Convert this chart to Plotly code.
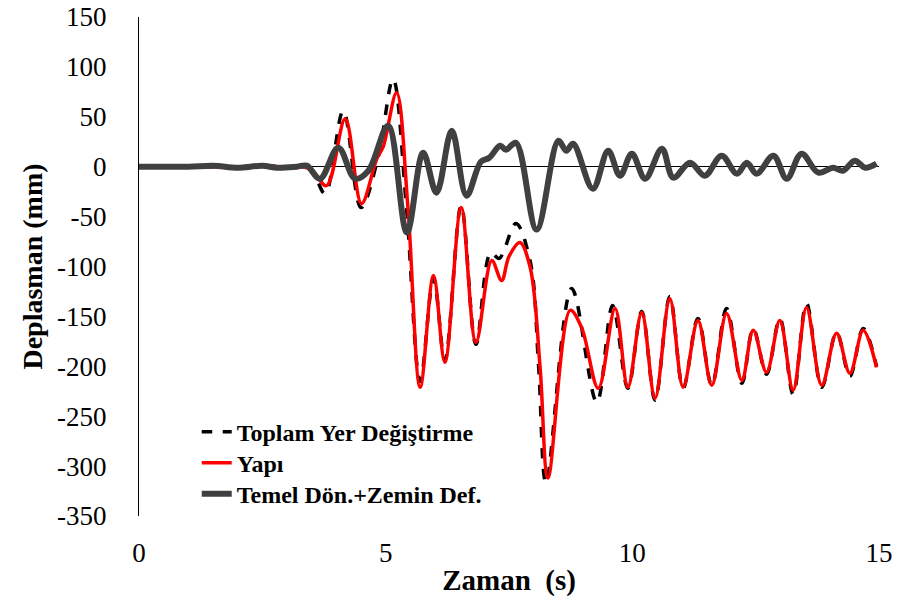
import plotly.graph_objects as go

# Toplam Yer Değiştirme (black dashed)
t_total = [0, 1.0, 2.0, 2.6, 3.0, 3.3, 3.5, 3.77, 4.14, 4.50, 4.85, 5.15, 5.42, 5.70, 5.97, 6.20, 6.53,
           6.83, 7.13, 7.30, 7.64, 7.93, 8.10, 8.25, 8.77, 9.28, 9.60, 9.91, 10.19, 10.46, 10.76,
           11.03, 11.33, 11.61, 11.91, 12.22, 12.45, 12.72, 12.99, 13.26, 13.53, 13.84, 14.14,
           14.41, 14.68, 14.95]
v_total = [0, 0, 0, 1, -1, 0, -3, -27, 56, -41, 10, 88, -40, -215, -112, -194, -39,
           -178, -86, -92, -57, -95, -200, -317, -122, -236, -139, -222, -145, -234, -130,
           -222, -152, -219, -142, -217, -162, -208, -152, -228, -137, -221, -166,
           -210, -162, -200]

# Yapı (red)
t_yapi = [0, 1.0, 2.0, 2.6, 3.0, 3.3, 3.5, 3.80, 4.18, 4.51, 4.82, 4.95, 5.22, 5.45, 5.70, 5.97, 6.20,
          6.53, 6.83, 7.15, 7.35, 7.50, 7.72, 7.93, 8.13, 8.29, 8.74, 8.97, 9.31, 9.65, 9.91,
          10.19, 10.46, 10.76, 11.03, 11.33, 11.61, 11.91, 12.22, 12.45, 12.72, 12.99, 13.26,
          13.53, 13.84, 14.14, 14.41, 14.68, 14.95]
v_yapi = [0, 0, 0, 1, -1, 0, -3, -19, 48, -37, 8, 20, 74, -40, -221, -109, -196,
          -41, -176, -94, -114, -90, -76, -101, -201, -312, -144, -161, -222, -142, -221,
          -146, -232, -132, -221, -154, -219, -147, -214, -164, -206, -154, -224,
          -141, -219, -167, -207, -164, -201]

# Temel Dön.+Zemin Def. (dark gray)
t_temel = [0, 1.0, 1.5, 2.0, 2.5, 2.8, 3.2, 3.4, 3.67, 4.04, 4.38, 4.65, 5.05, 5.43, 5.76, 6.03,
           6.34, 6.64, 6.93, 7.10, 7.32, 7.44, 7.64, 8.06, 8.50, 8.66, 8.80, 9.20, 9.51, 9.75,
           9.99, 10.26, 10.60, 10.83, 11.17, 11.47, 11.81, 12.12, 12.32, 12.52, 12.86, 13.13,
           13.43, 13.77, 14.07, 14.27, 14.51, 14.72, 14.95]
v_temel = [0, 0, 1, -1, 1, -1, 0, 1, -12, 19, -12, -4, 41, -66, 14, -26,
           36, -29, 5, 9, 21, 17, 24, -63, 26, 16, 23, -22, 16, -9,
           13, -12, 18, -11, 4, -9, 11, -7, 4, -7, 11, -12,
           13, -6, -1, -4, 6, -1, 3]

y_ticks = [150, 100, 50, 0, -50, -100, -150, -200, -250, -300, -350]
y_ticktext = ["150", "100", "50", "0", "-50", "-100", "-150", "-200", "-250", "-300", "-350"]
x_ticks = [0, 5, 10, 15]

FONT = "Liberation Serif, Times New Roman, serif"
LEG_FONT = dict(family=FONT, size=24, color="black")

fig = go.Figure()
fig.add_trace(go.Scatter(x=t_total, y=v_total, mode="lines", name="<b>Toplam Yer Değiştirme</b>",
                         legend="legend",
                         line=dict(color="black", width=3.5, dash="dash", shape="spline", smoothing=1.0)))
fig.add_trace(go.Scatter(x=t_yapi, y=v_yapi, mode="lines", name="<b>Yapı</b>",
                         legend="legend2",
                         line=dict(color="#ff0000", width=3.5, shape="spline", smoothing=1.0)))
fig.add_trace(go.Scatter(x=t_temel, y=v_temel, mode="lines", name="<b>Temel Dön.+Zemin Def.</b>",
                         legend="legend3",
                         line=dict(color="#404040", width=6, shape="spline", smoothing=1.0)))

def leg(yc):
    return dict(x=0.078, y=yc, xanchor="left", yanchor="middle", bgcolor="rgba(0,0,0,0)",
                font=LEG_FONT, itemwidth=30)

fig.update_layout(
    width=902, height=608,
    margin=dict(l=139, r=23, t=17, b=92),
    plot_bgcolor="white", paper_bgcolor="white",
    font=dict(family=FONT, color="black", size=27),
    showlegend=True,
    legend=leg(0.168), legend2=leg(0.106), legend3=leg(0.044),
    xaxis=dict(range=[0, 15], tickvals=x_ticks, showgrid=False, zeroline=False,
               showline=False, ticks="", ticklabelstandoff=18, automargin=False,
               title=dict(text="<b>Zaman  (s)</b>", font=dict(size=29), standoff=2)),
    yaxis=dict(range=[-350, 150], tickvals=y_ticks, ticktext=y_ticktext, showgrid=False,
               zeroline=True, zerolinecolor="black", zerolinewidth=1.3,
               showline=True, linecolor="black", linewidth=1.3, ticks="",
               ticklabelstandoff=26, automargin=False,
               title=dict(text="<b>Deplasman (mm)</b>", font=dict(size=28), standoff=6)),
)

fig.write_html("out.html")
